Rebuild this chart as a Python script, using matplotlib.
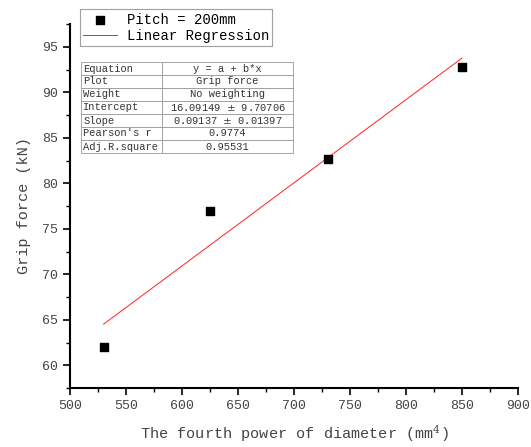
import matplotlib.pyplot as plt
from matplotlib.ticker import MultipleLocator

diameter4 = [530, 625, 730, 850]
grip_force = [62.0, 77.0, 82.7, 92.8]
intercept = 16.09149
slope = 0.09137

table_keys = ['Equation', 'Plot', 'Weight', 'Intercept', 'Slope',
              "Pearson's r", 'Adj.R.square']
table_vals = ['y = a + b*x', 'Grip force', 'No weighting',
              '16.09149 $\\pm$ 9.70706', '0.09137 $\\pm$ 0.01397',
              '0.9774', '0.95531']

plt.rcParams['font.family'] = ['Liberation Mono', 'DejaVu Sans']
plt.rcParams['mathtext.fontset'] = 'dejavuserif'

fig = plt.figure(figsize=(5.31, 4.47), dpi=100)
ax = fig.add_axes([70 / 531, 59 / 447, 448 / 531, 364 / 447])

ax.scatter(diameter4, grip_force, marker='s', s=40, color='black',
           zorder=3, label='Pitch = 200mm')
fit_x = [min(diameter4), max(diameter4)]
fit_y = [intercept + slope * v for v in fit_x]
ax.plot(fit_x, fit_y, color='#ff2020', lw=0.7, label='Linear Regression')

ax.set_xlim(500, 900)
ax.set_ylim(57.5, 97.5)
ax.xaxis.set_major_locator(MultipleLocator(50))
ax.xaxis.set_minor_locator(MultipleLocator(25))
ax.yaxis.set_major_locator(MultipleLocator(5))
ax.yaxis.set_minor_locator(MultipleLocator(2.5))
for s in ['top', 'right']:
    ax.spines[s].set_visible(False)
for s in ['left', 'bottom']:
    ax.spines[s].set_linewidth(1.5)
ax.tick_params(which='major', direction='out', length=5, width=1.2,
               labelsize=9.5, colors='black', labelcolor='#444444')
ax.tick_params(which='minor', direction='out', length=3, width=1.0)

ax.set_xlabel('The fourth power of diameter (mm$^4$)', fontsize=11,
              color='#444444', labelpad=8)
ax.set_ylabel('Grip force (kN)', fontsize=11, color='#444444', labelpad=8)

leg = ax.legend(loc='upper left', bbox_to_anchor=(10 / 448, 1.04),
                fontsize=10, frameon=True, fancybox=False,
                borderpad=0.25, handlelength=2.4, handletextpad=0.7,
                labelspacing=0.15, borderaxespad=0)
leg.get_frame().set_edgecolor('#888888')
leg.get_frame().set_linewidth(0.8)

tbl = ax.table(cellText=[[k, v] for k, v in zip(table_keys, table_vals)],
               colWidths=[81 / 448, 131 / 448], cellLoc='left',
               bbox=[11 / 448, (388 - 153) / 364, 212 / 448, 91 / 364])
tbl.auto_set_font_size(False)
tbl.set_fontsize(7.5)
for (r, c), cell in tbl.get_celld().items():
    cell.set_edgecolor('#999999')
    cell.set_linewidth(0.6)
    cell.get_text().set_color('#333333')
    if c == 1:
        cell.get_text().set_horizontalalignment('center')
        cell._loc = 'center'
    else:
        cell.PAD = 0.03

fig.savefig('out.png', dpi=100)
